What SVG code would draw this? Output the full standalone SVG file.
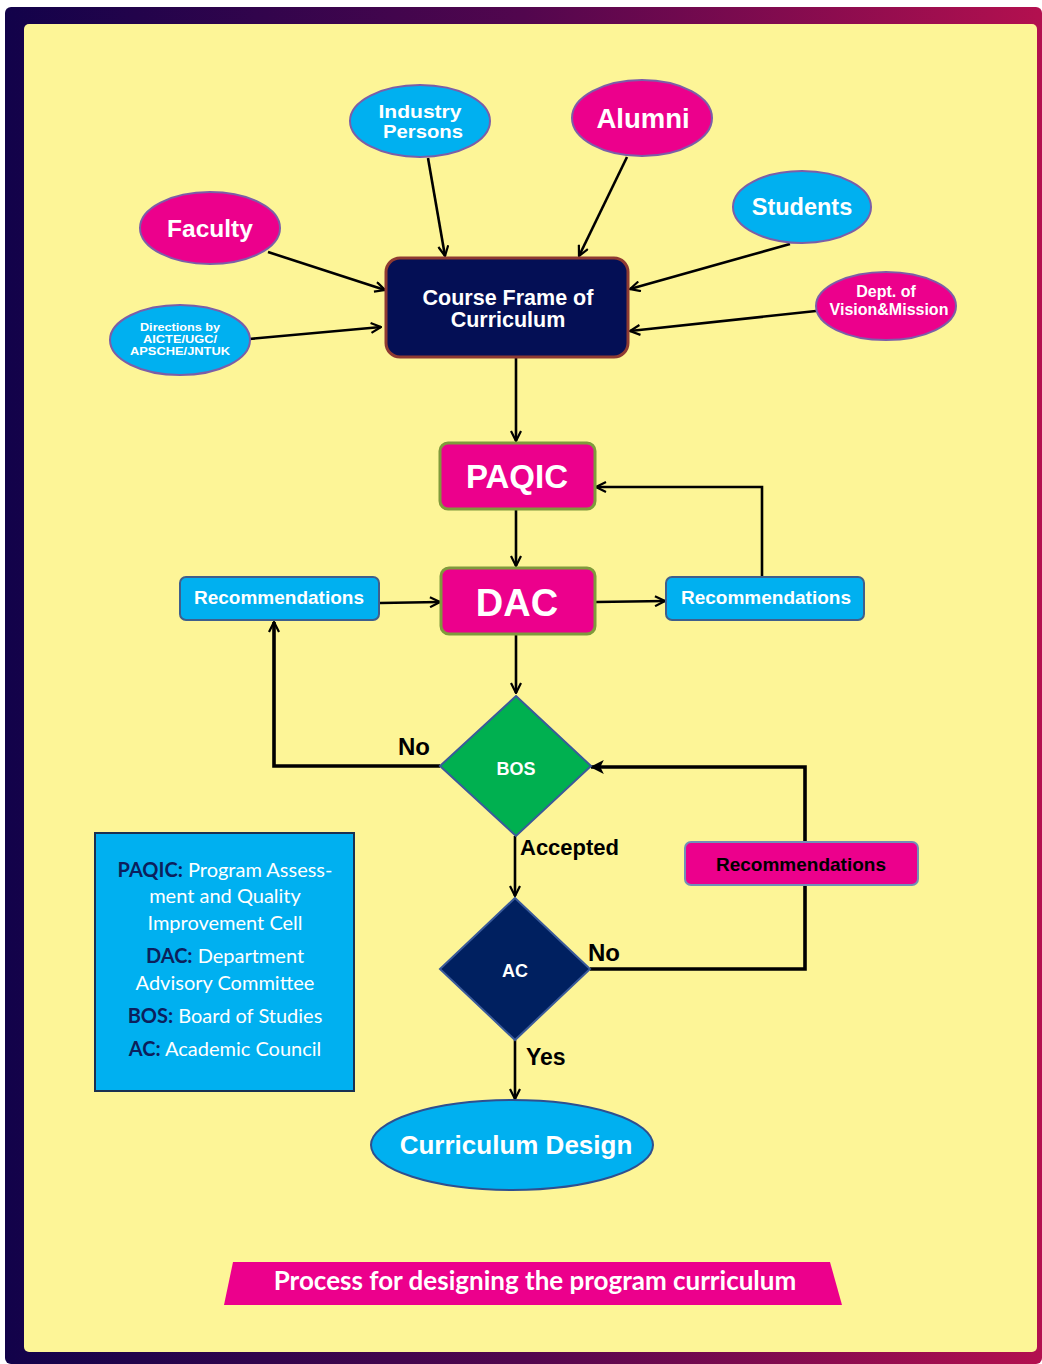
<svg xmlns="http://www.w3.org/2000/svg" width="1042" height="1364" viewBox="0 0 1042 1364">
<defs>
<linearGradient id="frameGrad" x1="0" y1="0" x2="1" y2="0">
<stop offset="0" stop-color="#12024a"/>
<stop offset="0.5" stop-color="#52064e"/>
<stop offset="1" stop-color="#b3104f"/>
</linearGradient>
<marker id="chev" viewBox="0 0 12 12" refX="11" refY="6" markerWidth="12" markerHeight="12" markerUnits="userSpaceOnUse" orient="auto">
<polyline points="1,1 11,6 1,11" fill="none" stroke="#000" stroke-width="2.2"/>
</marker>
<marker id="tri" viewBox="0 0 12 12" refX="11" refY="6" markerWidth="14" markerHeight="14" markerUnits="userSpaceOnUse" orient="auto">
<path d="M0,0 L12,6 L0,12 L3,6 Z" fill="#000"/>
</marker>
<style>
.sans{font-family:"Liberation Sans",Arial,sans-serif;font-weight:bold}
.wt{fill:#fff}
.bk{fill:#000}
.cal{font-family:Lato,"Open Sans",sans-serif}
.pinkE{fill:#ec008c;stroke:#7b5ea8;stroke-width:2}
.blueE{fill:#00b0f0;stroke:#7b5ea8;stroke-width:2}
.pinkB{fill:#ec008c;stroke:#7f9a3c;stroke-width:3}
.blueB{fill:#00b0f0;stroke:#3f5f8c;stroke-width:2}
.ln{fill:none;stroke:#000;stroke-width:2.6}
.lnT{fill:none;stroke:#000;stroke-width:3.6}
</style>
</defs>

<g id="frame">
<rect x="5" y="7" width="1037" height="1357" rx="6" fill="url(#frameGrad)"/>
<rect x="24" y="24" width="1013" height="1328" rx="5" fill="#fdf597"/>
</g>

<g id="connectors">
<line class="ln" x1="268" y1="252" x2="385" y2="290" marker-end="url(#chev)"/>
<line class="ln" x1="249" y1="339" x2="381" y2="327" marker-end="url(#chev)"/>
<line class="ln" x1="428" y1="158" x2="445" y2="256" marker-end="url(#chev)"/>
<line class="ln" x1="627" y1="157" x2="579" y2="256" marker-end="url(#chev)"/>
<line class="ln" x1="790" y1="244" x2="630" y2="289" marker-end="url(#chev)"/>
<line class="ln" x1="816" y1="311" x2="630" y2="331" marker-end="url(#chev)"/>
<line class="ln" x1="516" y1="357" x2="516" y2="441" marker-end="url(#chev)"/>
<line class="ln" x1="516" y1="509" x2="516" y2="566" marker-end="url(#chev)"/>
<line class="ln" x1="596" y1="602" x2="665" y2="601" marker-end="url(#chev)"/>
<polyline class="ln" points="762,577 762,487 596,487" marker-end="url(#chev)"/>
<line class="ln" x1="380" y1="603" x2="440" y2="602" marker-end="url(#chev)"/>
<line class="ln" x1="516" y1="634" x2="516" y2="693" marker-end="url(#chev)"/>
<polyline class="lnT" points="440,766 274,766 274,622" marker-end="url(#chev)"/>
<line class="ln" x1="515" y1="836" x2="515" y2="896" marker-end="url(#chev)"/>
<polyline class="lnT" points="590,969 805,969 805,886"/>
<polyline class="lnT" points="805,842 805,767 591,767" marker-end="url(#tri)"/>
<line class="ln" x1="515" y1="1040" x2="515" y2="1099" marker-end="url(#chev)"/>
<text class="sans bk" x="398" y="755" font-size="24">No</text>
<text class="sans bk" x="520" y="855" font-size="22">Accepted</text>
<text class="sans bk" x="588" y="961" font-size="24">No</text>
<text class="sans bk" x="526" y="1065" font-size="23">Yes</text>
</g>

<g id="industry">
<ellipse class="blueE" cx="420" cy="121" rx="70" ry="36"/>
<text class="sans wt" x="420" y="118" font-size="18.5" text-anchor="middle" textLength="83" lengthAdjust="spacingAndGlyphs">Industry</text>
<text class="sans wt" x="423" y="138" font-size="18.5" text-anchor="middle" textLength="80" lengthAdjust="spacingAndGlyphs">Persons</text>
</g>
<g id="alumni">
<ellipse class="pinkE" cx="642" cy="118" rx="70" ry="38"/>
<text class="sans wt" x="643" y="128" font-size="27.5" text-anchor="middle">Alumni</text>
</g>
<g id="faculty">
<ellipse class="pinkE" cx="210" cy="228" rx="70" ry="36"/>
<text class="sans wt" x="210" y="237" font-size="24.5" text-anchor="middle">Faculty</text>
</g>
<g id="students">
<ellipse class="blueE" cx="802" cy="207" rx="69" ry="36"/>
<text class="sans wt" x="802" y="215" font-size="23.5" text-anchor="middle">Students</text>
</g>
<g id="dept">
<ellipse class="pinkE" cx="886" cy="306" rx="70" ry="34"/>
<text class="sans wt" x="886" y="297" font-size="16" font-weight="normal" text-anchor="middle">Dept. of</text>
<text class="sans wt" x="889" y="315" font-size="16" text-anchor="middle">Vision&amp;Mission</text>
</g>
<g id="directions">
<ellipse class="blueE" cx="180" cy="340" rx="70" ry="35"/>
<text class="sans wt" x="180" y="331" font-size="11" text-anchor="middle" textLength="80" lengthAdjust="spacingAndGlyphs">Directions by</text>
<text class="sans wt" x="180" y="343" font-size="11" text-anchor="middle" textLength="74" lengthAdjust="spacingAndGlyphs">AICTE/UGC/</text>
<text class="sans wt" x="180" y="355" font-size="11" text-anchor="middle" textLength="100" lengthAdjust="spacingAndGlyphs">APSCHE/JNTUK</text>
</g>

<g id="courseFrame">
<rect x="386" y="258" width="242" height="99" rx="14" fill="#040f55" stroke="#8e3a32" stroke-width="3"/>
<text class="sans wt" x="508" y="305" font-size="21.5" text-anchor="middle">Course Frame of</text>
<text class="sans wt" x="508" y="327" font-size="21.5" text-anchor="middle">Curriculum</text>
</g>

<g id="paqic">
<rect class="pinkB" x="440" y="443" width="155" height="66" rx="8"/>
<text class="sans wt" x="517" y="488" font-size="33" text-anchor="middle">PAQIC</text>
</g>
<g id="dac">
<rect class="pinkB" x="441" y="568" width="154" height="66" rx="8"/>
<text class="sans wt" x="517" y="616" font-size="38" font-weight="normal" text-anchor="middle">DAC</text>
</g>
<g id="recLeft">
<rect class="blueB" x="180" y="577" width="199" height="43" rx="6"/>
<text class="sans wt" x="279" y="604" font-size="19" text-anchor="middle">Recommendations</text>
</g>
<g id="recRight">
<rect class="blueB" x="666" y="577" width="198" height="43" rx="6"/>
<text class="sans wt" x="766" y="604" font-size="19" text-anchor="middle">Recommendations</text>
</g>
<g id="recPink">
<rect x="685" y="842" width="233" height="43" rx="6" fill="#ec008c" stroke="#7090b8" stroke-width="2"/>
<text class="sans bk" x="801" y="871" font-size="19" text-anchor="middle">Recommendations</text>
</g>

<g id="bos">
<polygon points="516,696 591,766 516,836 440,766" fill="#00b050" stroke="#3a5a9a" stroke-width="2"/>
<text class="sans wt" x="516" y="775" font-size="18" text-anchor="middle">BOS</text>
</g>
<g id="ac">
<polygon points="515,898 590,969 515,1040 440,969" fill="#002060" stroke="#3a5a9a" stroke-width="2"/>
<text class="sans wt" x="515" y="977" font-size="18" text-anchor="middle">AC</text>
</g>

<g id="curriculumDesign">
<ellipse cx="512" cy="1145" rx="141" ry="45" fill="#00b0f0" stroke="#2f4f8f" stroke-width="2"/>
<text class="sans wt" x="516" y="1154" font-size="26" text-anchor="middle">Curriculum Design</text>
</g>

<g id="legend">
<rect x="95" y="833" width="259" height="258" fill="#00b0f0" stroke="#1a3050" stroke-width="2"/>
<g class="cal" font-size="20" fill="#fff" text-anchor="middle">
<text x="225" y="877"><tspan font-weight="bold" fill="#0c1f5c">PAQIC:</tspan> Program Assess-</text>
<text x="225" y="903">ment and Quality</text>
<text x="225" y="930">Improvement Cell</text>
<text x="225" y="963"><tspan font-weight="bold" fill="#0c1f5c">DAC:</tspan> Department</text>
<text x="225" y="990">Advisory Committee</text>
<text x="225" y="1023"><tspan font-weight="bold" fill="#0c1f5c">BOS:</tspan> Board of Studies</text>
<text x="225" y="1056"><tspan font-weight="bold" fill="#0c1f5c">AC:</tspan> Academic Council</text>
</g>
</g>

<g id="title">
<polygon points="233,1262 830,1262 842,1305 224,1305" fill="#ec008c"/>
<text class="cal" x="535" y="1290" font-size="26" font-weight="bold" fill="#fff" text-anchor="middle">Process for designing the program curriculum</text>
</g>
</svg>
